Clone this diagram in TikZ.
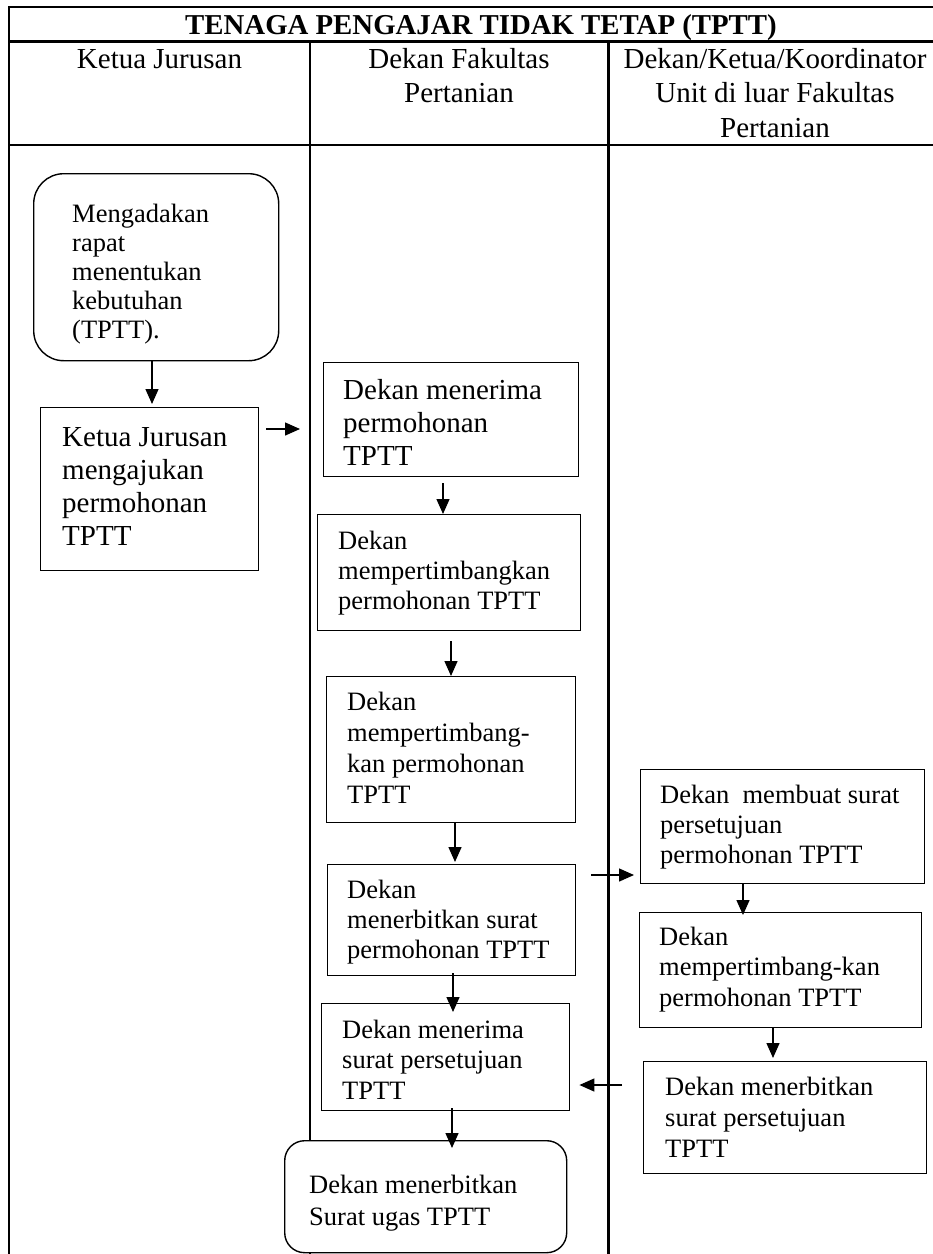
\documentclass[tikz,border=0pt]{standalone}
\usepackage{fontspec}
\setmainfont{Liberation Serif}
\usetikzlibrary{arrows.meta}

% multi-line text block whose reference point is the baseline of its first line
\newcommand\flowtext[3]{\parbox[t]{9cm}{\fontsize{#1}{#2}\selectfont\raggedright #3}}
\newcommand\headtext[1]{\parbox[t]{320pt}{\centering\fontsize{29}{34.5}\selectfont #1}}

\tikzset{
  frame/.style={line width=2.4pt},
  stepbox/.style={draw, line width=1.4pt, rectangle, anchor=north west, inner sep=0pt},
  roundbox/.style={stepbox, rounded corners=#1, fill=white},
  txt/.style={anchor=base west, inner sep=0pt},
  arr/.style={line width=1.4pt, -{Triangle[length=15pt,width=13pt]}},
}

\begin{document}
\begin{tikzpicture}[x=1pt, y=-1pt]
  \useasboundingbox (0,0) rectangle (933,1254);
  \clip (0,0) rectangle (933,1254);
  \fill[white] (0,0) rectangle (933,1254);

  % swimlane table
  \draw[frame] (9,1270) -- (9,7) -- (950,7);
  \draw[frame] (9,41.6) -- (950,41.6);
  \draw[frame] (9,145) -- (950,145);
  \draw[frame] (310,41.6) -- (310,1270);
  \draw[frame] (608.5,41.6) -- (608.5,1270);

  \node[anchor=base, inner sep=0pt] (title) at (481,34)
    {\fontsize{28.8}{34}\selectfont\bfseries TENAGA PENGAJAR TIDAK TETAP (TPTT)};
  \node[anchor=base, inner sep=0pt] (h1) at (159.5,68) {\headtext{Ketua Jurusan}};
  \node[anchor=base, inner sep=0pt] (h2) at (459,68) {\headtext{Dekan Fakultas\\Pertanian}};
  \node[anchor=base, inner sep=0pt] (h3) at (775,68) {\headtext{Dekan/Ketua/Koordinator\\Unit di luar Fakultas\\Pertanian}};

  % process boxes
  \node[roundbox=30pt, minimum width=245pt, minimum height=187pt] (b1) at (33,173) {};
  \node[stepbox, minimum width=218pt, minimum height=163pt] (b2) at (40,407) {};
  \node[stepbox, minimum width=255pt, minimum height=114pt] (m1) at (323,362) {};
  \node[stepbox, minimum width=263pt, minimum height=116pt] (m2) at (317,514) {};
  \node[stepbox, minimum width=249pt, minimum height=146pt] (m3) at (326,676) {};
  \node[stepbox, minimum width=248pt, minimum height=111pt] (m4) at (327,864) {};
  \node[stepbox, minimum width=248pt, minimum height=107pt] (m5) at (321,1003) {};
  \node[roundbox=20pt, minimum width=282pt, minimum height=112pt] (m6) at (284,1140) {};
  \node[stepbox, minimum width=284pt, minimum height=114pt] (r1) at (640,769) {};
  \node[stepbox, minimum width=282pt, minimum height=115pt] (r2) at (639,912) {};
  \node[stepbox, minimum width=283pt, minimum height=112pt] (r3) at (643,1061) {};

  % box texts
  \node[txt] (tb1) at (72,222) {\flowtext{26.5}{29}{Mengadakan\\rapat\\menentukan\\kebutuhan\\(TPTT).}};
  \node[txt] (tb2) at (62,446) {\flowtext{29}{33}{Ketua Jurusan\\mengajukan\\permohonan\\TPTT}};
  \node[txt] (tm1) at (343,399) {\flowtext{29}{33}{Dekan menerima\\permohonan\\TPTT}};
  \node[txt] (tm2) at (338,549) {\flowtext{26.5}{30}{Dekan\\mempertimbangkan\\permohonan TPTT}};
  \node[txt] (tm3) at (347,710) {\flowtext{26.5}{31}{Dekan\\mempertimbang-\\kan permohonan\\TPTT}};
  \node[txt] (tm4) at (347,898) {\flowtext{26.5}{30}{Dekan\\menerbitkan surat\\permohonan TPTT}};
  \node[txt] (tm5) at (342,1038) {\flowtext{26.5}{30.5}{Dekan menerima\\surat persetujuan\\TPTT}};
  \node[txt] (tm6) at (309,1193) {\flowtext{26.5}{32}{Dekan menerbitkan\\Surat ugas TPTT}};
  \node[txt] (tr1) at (660,803) {\flowtext{26.5}{30}{Dekan\ \ membuat surat\\persetujuan\\permohonan TPTT}};
  \node[txt] (tr2) at (659,945) {\flowtext{26.5}{30.5}{Dekan\\mempertimbang-kan\\permohonan TPTT}};
  \node[txt] (tr3) at (665,1095) {\flowtext{26.5}{31}{Dekan menerbitkan\\surat persetujuan\\TPTT}};

  % connectors
  \draw[arr] ([xshift=119pt]b1.south west) -- ([shift={(112pt,3pt)}]b2.north west);
  \draw[arr] ([shift={(7pt,-22pt)}]b2.north east) -- ([shift={(-23pt,-67pt)}]m1.north west);
  \draw[arr] ([shift={(120pt,-6pt)}]m1.south west) -- ([xshift=126pt]m2.north west);
  \draw[arr] ([shift={(134pt,-10pt)}]m2.south west) -- ([xshift=125pt]m3.north west);
  \draw[arr] ([xshift=129pt]m3.south west) -- ([shift={(128pt,2pt)}]m4.north west);
  \draw[arr] ([shift={(126pt,3pt)}]m4.south west) -- ([shift={(132pt,-9pt)}]m5.north west);
  \draw[arr] ([shift={(131pt,3pt)}]m5.south west) -- ([shift={(168pt,-8pt)}]m6.north west);
  \draw[arr] ([shift={(15pt,-11pt)}]m4.north east) -- ([shift={(-6pt,-106pt)}]r1.north west);
  \draw[arr] ([xshift=103pt]r1.south west) -- ([shift={(104pt,-3pt)}]r2.north west);
  \draw[arr] ([xshift=134pt]r2.south west) -- ([shift={(130pt,3pt)}]r3.north west);
  \draw[arr] ([shift={(-21pt,-24pt)}]r3.north west) -- ([shift={(9pt,-82pt)}]m5.north east);
\end{tikzpicture}
\end{document}
